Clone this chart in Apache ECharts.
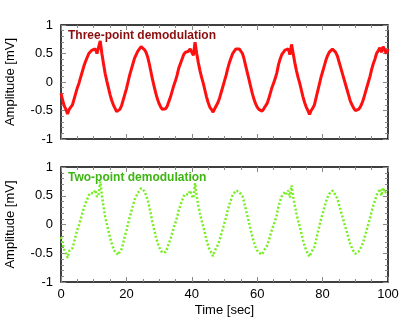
<!DOCTYPE html>
<html>
<head>
<meta charset="utf-8">
<script src="https://cdn.jsdelivr.net/npm/echarts@6/dist/echarts.min.js"></script>
<style>
  html, body { margin: 0; padding: 0; background: #fff; }
  #chart { width: 409px; height: 322px; }
</style>
</head>
<body>
<div id="chart"></div>
<script>
// time axis, 0.5 s steps
var times = [];
for (var i = 0; i <= 200; i++) times.push(i * 0.5);

// three-point demodulation
var threePoint = [
  -0.20, -0.32, -0.42, -0.48, -0.56, -0.48, -0.47, -0.40, -0.30, -0.20,
  -0.10, -0.02, 0.08, 0.18, 0.28, 0.36, 0.43, 0.50, 0.53, 0.56,
  0.55, 0.58, 0.50, 0.52, 0.72, 0.50, 0.32, 0.15, 0.02, -0.10,
  -0.22, -0.32, -0.40, -0.46, -0.52, -0.53, -0.48, -0.42, -0.32, -0.22,
  -0.12, 0.00, 0.12, 0.22, 0.32, 0.42, 0.48, 0.54, 0.58, 0.62,
  0.60, 0.57, 0.52, 0.44, 0.32, 0.18, 0.04, -0.08, -0.20, -0.30,
  -0.38, -0.44, -0.48, -0.46, -0.47, -0.42, -0.34, -0.26, -0.16, -0.06,
  0.02, 0.12, 0.24, 0.32, 0.40, 0.48, 0.52, 0.55, 0.54, 0.58,
  0.52, 0.47, 0.70, 0.50, 0.34, 0.20, 0.08, -0.02, -0.14, -0.26,
  -0.36, -0.44, -0.48, -0.53, -0.47, -0.44, -0.36, -0.28, -0.18, -0.08,
  0.02, 0.12, 0.24, 0.34, 0.42, 0.50, 0.54, 0.58, 0.60, 0.58,
  0.55, 0.50, 0.40, 0.28, 0.16, 0.04, -0.08, -0.20, -0.30, -0.38,
  -0.44, -0.48, -0.50, -0.51, -0.47, -0.44, -0.38, -0.30, -0.20, -0.10,
  -0.02, 0.06, 0.16, 0.30, 0.40, 0.48, 0.52, 0.56, 0.54, 0.58,
  0.48, 0.66, 0.50, 0.34, 0.20, 0.08, -0.02, -0.14, -0.26, -0.36,
  -0.44, -0.50, -0.57, -0.50, -0.46, -0.40, -0.28, -0.16, -0.04, 0.08,
  0.18, 0.28, 0.38, 0.46, 0.52, 0.55, 0.58, 0.56, 0.52, 0.46,
  0.36, 0.26, 0.16, 0.06, -0.04, -0.14, -0.24, -0.34, -0.40, -0.46,
  -0.50, -0.52, -0.48, -0.44, -0.38, -0.30, -0.20, -0.10, 0.00, 0.10,
  0.22, 0.32, 0.40, 0.50, 0.55, 0.60, 0.52, 0.62, 0.56, 0.50,
  0.58
];

// two-point demodulation
var twoPoint = [
  -0.22, -0.34, -0.44, -0.50, -0.58, -0.46, -0.49, -0.41, -0.31, -0.19,
  -0.09, -0.01, 0.09, 0.19, 0.29, 0.37, 0.44, 0.51, 0.55, 0.57,
  0.54, 0.60, 0.48, 0.53, 0.75, 0.51, 0.31, 0.14, 0.01, -0.11,
  -0.23, -0.33, -0.41, -0.47, -0.50, -0.53, -0.47, -0.43, -0.33, -0.21,
  -0.11, 0.01, 0.13, 0.23, 0.33, 0.43, 0.49, 0.55, 0.59, 0.63,
  0.61, 0.58, 0.51, 0.43, 0.31, 0.17, 0.03, -0.09, -0.21, -0.31,
  -0.39, -0.45, -0.49, -0.47, -0.48, -0.41, -0.33, -0.25, -0.15, -0.05,
  0.03, 0.13, 0.25, 0.33, 0.41, 0.49, 0.53, 0.56, 0.52, 0.59,
  0.50, 0.46, 0.72, 0.49, 0.33, 0.19, 0.07, -0.03, -0.15, -0.27,
  -0.37, -0.45, -0.49, -0.55, -0.46, -0.43, -0.35, -0.27, -0.17, -0.07,
  0.03, 0.13, 0.25, 0.35, 0.43, 0.51, 0.55, 0.59, 0.61, 0.57,
  0.54, 0.49, 0.39, 0.27, 0.15, 0.03, -0.09, -0.21, -0.31, -0.39,
  -0.45, -0.49, -0.51, -0.52, -0.46, -0.43, -0.37, -0.29, -0.19, -0.09,
  -0.01, 0.07, 0.17, 0.31, 0.41, 0.49, 0.53, 0.57, 0.53, 0.59,
  0.47, 0.68, 0.49, 0.33, 0.19, 0.07, -0.03, -0.15, -0.27, -0.37,
  -0.45, -0.51, -0.56, -0.49, -0.47, -0.39, -0.27, -0.15, -0.03, 0.09,
  0.19, 0.29, 0.39, 0.47, 0.53, 0.56, 0.59, 0.55, 0.51, 0.45,
  0.35, 0.25, 0.15, 0.05, -0.05, -0.15, -0.25, -0.35, -0.41, -0.47,
  -0.51, -0.53, -0.47, -0.43, -0.37, -0.29, -0.19, -0.09, 0.01, 0.11,
  0.23, 0.33, 0.41, 0.51, 0.56, 0.62, 0.50, 0.64, 0.55, 0.52,
  0.60
];

function pairs(vals) {
  var out = [];
  for (var i = 0; i < vals.length; i++) out.push([times[i], vals[i]]);
  return out;
}

var font = 'Liberation Sans, Arial, sans-serif';
var tickGrey = '#888';

function xAxisCfg(grid, showLabels, pos) {
  return {
    type: 'value', gridIndex: grid, min: 0, max: 100, interval: 20, position: pos,
    axisLine: { show: false, onZero: false },
    axisTick: { show: true, inside: true, length: 5, lineStyle: { color: tickGrey, width: 1 } },
    minorTick: { show: true, splitNumber: 4, length: 3, lineStyle: { color: tickGrey } },
    splitLine: { show: false },
    axisLabel: { show: showLabels, color: '#000', fontSize: 13, fontFamily: font, margin: 6 },
    name: showLabels ? 'Time [sec]' : '',
    nameLocation: 'middle', nameGap: 22,
    nameTextStyle: { color: '#000', fontSize: 13, fontFamily: font }
  };
}

function yAxisCfg(grid, left) {
  return {
    type: 'value', gridIndex: grid, min: -1, max: 1, interval: 0.5,
    position: left ? 'left' : 'right',
    axisLine: { show: false, onZero: false },
    axisTick: { show: true, inside: true, length: 5, lineStyle: { color: tickGrey, width: 1 } },
    minorTick: { show: true, splitNumber: 5, length: 3, lineStyle: { color: tickGrey } },
    splitLine: { show: false },
    axisLabel: { show: left, color: '#000', fontSize: 13, fontFamily: font, margin: 8 },
    name: left ? 'Amplitude [mV]' : '',
    nameLocation: 'middle', nameGap: 44, nameRotate: 90,
    nameTextStyle: { color: '#000', fontSize: 13, fontFamily: font }
  };
}

var myChart = echarts.init(document.getElementById('chart'), null, { renderer: 'canvas' });
var option = {
  backgroundColor: '#fff',
  animation: false,
  title: [
    { text: 'Three-point demodulation', left: 68, top: 30, padding: 0,
      textStyle: { color: '#8b0f0f', fontSize: 12, fontWeight: 'bold', fontFamily: font } },
    { text: 'Two-point demodulation', left: 68, top: 172, padding: 0,
      textStyle: { color: '#3db512', fontSize: 12, fontWeight: 'bold', fontFamily: font } }
  ],
  grid: [
    { left: 61, right: 21, top: 25, height: 114, outerBoundsMode: 'none', containLabel: false,
      show: true, borderColor: '#000', borderWidth: 1.5, backgroundColor: 'transparent' },
    { left: 61, right: 21, top: 167, height: 115, outerBoundsMode: 'none', containLabel: false,
      show: true, borderColor: '#000', borderWidth: 1.5, backgroundColor: 'transparent' }
  ],
  xAxis: [
    xAxisCfg(0, false, 'bottom'), xAxisCfg(0, false, 'top'),
    xAxisCfg(1, true, 'bottom'), xAxisCfg(1, false, 'top')
  ],
  yAxis: [
    yAxisCfg(0, true), yAxisCfg(0, false),
    yAxisCfg(1, true), yAxisCfg(1, false)
  ],
  series: [
    {
      type: 'line', xAxisIndex: 0, yAxisIndex: 0, data: pairs(threePoint),
      showSymbol: false, lineStyle: { color: '#ff1010', width: 3 }
    },
    {
      type: 'line', xAxisIndex: 2, yAxisIndex: 2, data: pairs(twoPoint),
      showSymbol: false, lineStyle: { color: '#77ee22', width: 2.5, type: [2, 2] }
    }
  ]
};
myChart.setOption(option);
window.addEventListener('resize', function () {
  myChart.resize();
});
</script>
</body>
</html>
